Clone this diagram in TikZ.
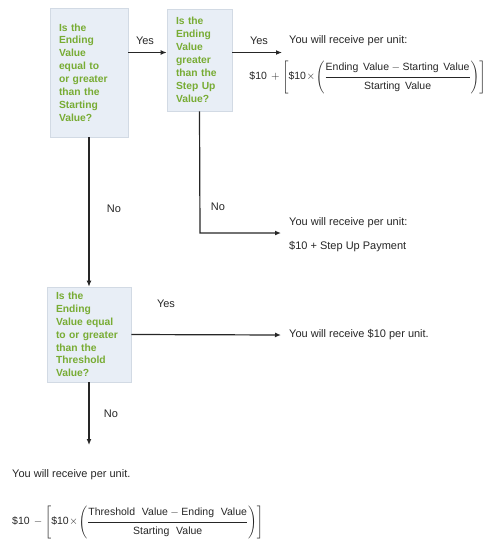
\documentclass[tikz,border=0pt]{standalone}
\usepackage{amsmath}
\usepackage{fontspec}
\setmainfont{Liberation Sans}
\usetikzlibrary{arrows.meta}
\definecolor{qgreen}{HTML}{78AC34}
\definecolor{qfill}{HTML}{E8EEF6}
\definecolor{qline}{HTML}{D2DAE4}
\newcommand{\numstrut}{\rule[-4.5pt]{0pt}{10pt}}
\newcommand{\denstrut}{\rule[-2pt]{0pt}{13pt}}
\newcommand{\wsp}{\hspace{0.45em}}
\newcommand{\wspb}{\hspace{0.65em}}
\tikzset{
  qbox/.style={draw=qline, fill=qfill, line width=0.6pt, inner sep=0pt,
    text=qgreen, font=\fontsize{10.3}{12.9}\selectfont\bfseries, align=left},
  lbl/.style={font=\fontsize{11}{13}\selectfont, text=black!85, inner sep=0pt},
  txt/.style={font=\fontsize{11}{13}\selectfont, text=black!85, inner sep=0pt, anchor=west},
  frm/.style={font=\fontsize{10.5}{13}\selectfont, text=black!85, inner sep=0pt},
  conn/.style={line width=1.2pt, draw=black!85},
  arr/.style={conn, -{Latex[length=6pt,width=5pt]}}
}
\begin{document}
\begin{tikzpicture}[x=1pt,y=-1pt]
\useasboundingbox (0,0) rectangle (488,546);
\node[qbox, minimum width=78pt, minimum height=129pt, text width=60pt] (b1) at (89,72.5)
  {Is the\\Ending\\Value\\equal to\\or greater\\than the\\Starting\\Value?};
\node[qbox, minimum width=65pt, minimum height=102pt, text width=47pt] (b2) at (199.5,60)
  {Is the\\Ending\\Value\\greater\\than the\\Step Up\\Value?};
\node[qbox, minimum width=84pt, minimum height=95pt, text width=66pt] (b3) at (89,334.5)
  {Is the\\Ending\\Value equal\\to or greater\\than the\\Threshold\\Value?};

\coordinate (ya) at (0,52.5);
\coordinate (e1) at (282,52.5);
\coordinate (c2) at (200,233);
\coordinate (e2) at (281,233);
\coordinate (e3) at (281,335);
\coordinate (e4) at (89,445);

\draw[arr] (b1.east |- ya) -- (b2.west |- ya);
\draw[arr] (b2.east |- ya) -- (e1);
\draw[arr] (b2.south) -- (c2) -- (e2);
\draw[arr] (b1.south) -- (b3.north);
\draw[arr] (b3.east) -- (e3);
\draw[arr] (b3.south) -- (e4);

\node[lbl] (y1) at (145,41) {Yes};
\node[lbl] (y2) at (259,41) {Yes};
\node[lbl] (n1) at (218,207) {No};
\node[lbl] (n2) at (114,209) {No};
\node[lbl] (y3) at (166,304) {Yes};
\node[lbl] (n3) at (111,414) {No};

\node[txt] (t1) at (289,41) {You will receive per unit:};
\node[frm, anchor=east] (f1) at (486,77)
  {$\text{\$10}\, + \left[\text{\$10}\!\times\!\left(\dfrac{\numstrut\text{Ending\wsp Value} - \text{Starting\wsp Value}}{\denstrut\text{Starting\wsp Value}}\right)\right]$};
\node[txt] (t2) at (289,223) {You will receive per unit:};
\node[txt] (t3) at (289,247) {\$10 + Step Up Payment};
\node[txt] (t4) at (289,335) {You will receive \$10 per unit.};
\node[txt] (t5) at (12,475) {You will receive per unit.};
\node[frm, anchor=west] (f2) at (12,522)
  {$\text{\$10}\, - \left[\text{\$10}\!\times\!\left(\dfrac{\numstrut\text{Threshold\wspb Value} - \text{Ending\wspb Value}}{\denstrut\text{Starting\wspb Value}}\right)\right]$};
\end{tikzpicture}
\end{document}
